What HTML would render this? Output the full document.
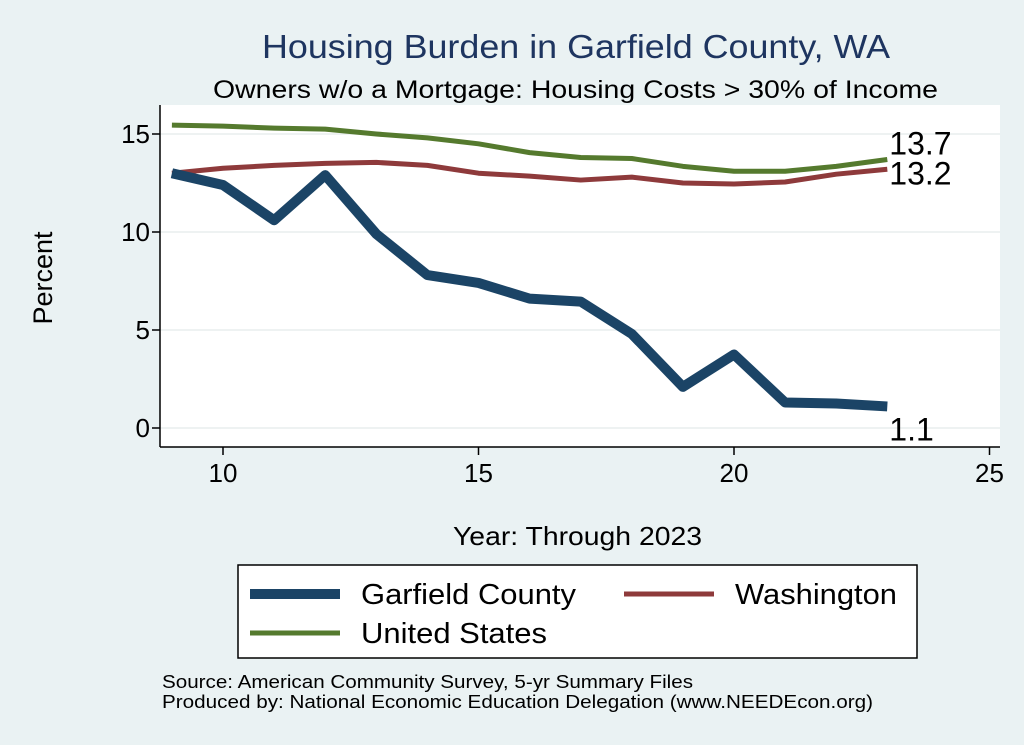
<!DOCTYPE html>
<html><head><meta charset="utf-8"><style>
body{margin:0;background:#eaf2f3;}
svg{display:block;font-family:"Liberation Sans",sans-serif;}
</style></head><body>
<svg width="1024" height="745" viewBox="0 0 1024 745">
<rect x="0" y="0" width="1024" height="745" fill="#eaf2f3"/>
<text x="262" y="58" font-size="33" fill="#1e3560" textLength="628" lengthAdjust="spacingAndGlyphs">Housing Burden in Garfield County, WA</text>
<text x="213" y="98" font-size="25" fill="#000" textLength="725" lengthAdjust="spacingAndGlyphs">Owners w/o a Mortgage: Housing Costs &gt; 30% of Income</text>
<rect x="160" y="105" width="840" height="342" fill="#fff"/>
<g id="grid"></g>
<g id="axes"></g>
<g id="series"></g>
<text x="52" y="278" font-size="27" text-anchor="middle" transform="rotate(-90 52 278)">Percent</text>
<text x="453" y="545" font-size="26" textLength="249" lengthAdjust="spacingAndGlyphs">Year: Through 2023</text>
<g>
<rect x="238" y="565" width="679" height="93" fill="#fff" stroke="#000" stroke-width="1.5"/>
<line x1="250" y1="594" x2="340" y2="594" stroke="#1b4466" stroke-width="10"/>
<text x="361" y="604" font-size="29" textLength="215" lengthAdjust="spacingAndGlyphs">Garfield County</text>
<line x1="624" y1="594" x2="714" y2="594" stroke="#8e3a3b" stroke-width="5"/>
<text x="735" y="604" font-size="29" textLength="162" lengthAdjust="spacingAndGlyphs">Washington</text>
<line x1="250" y1="633" x2="340" y2="633" stroke="#557a2e" stroke-width="5"/>
<text x="361" y="643" font-size="29" textLength="186" lengthAdjust="spacingAndGlyphs">United States</text>
</g>
<text x="162" y="688" font-size="18" textLength="531" lengthAdjust="spacingAndGlyphs">Source: American Community Survey, 5-yr Summary Files</text>
<text x="162" y="708" font-size="18" textLength="711" lengthAdjust="spacingAndGlyphs">Produced by: National Economic Education Delegation (www.NEEDEcon.org)</text>
</svg>
<script>
const years=[9,10,11,12,13,14,15,16,17,18,19,20,21,22,23];
const garfield=[13.0,12.4,10.6,12.9,9.9,7.8,7.4,6.6,6.45,4.8,2.1,3.75,1.3,1.25,1.1];
const washington=[13.0,13.25,13.4,13.5,13.55,13.4,13.0,12.85,12.65,12.8,12.5,12.45,12.55,12.95,13.2];
const us=[15.45,15.4,15.3,15.25,15.0,14.8,14.5,14.05,13.8,13.75,13.35,13.1,13.1,13.35,13.7];
const xTicks=[10,15,20,25];
const yTicks=[0,5,10,15];
const NS="http://www.w3.org/2000/svg";
function X(v){return 223+(v-10)*51.1;}
function Y(v){return 428-v*19.6;}
function mk(t,a,p){const e=document.createElementNS(NS,t);for(const k in a)e.setAttribute(k,a[k]);p.appendChild(e);return e;}
const grid=document.getElementById('grid'),axes=document.getElementById('axes'),ser=document.getElementById('series');
yTicks.forEach(v=>{
 const g=mk('line',{x1:160,x2:1000,y1:Y(v),y2:Y(v),stroke:'#e8eeee','stroke-width':1.5},grid);
 
 
 const t=mk('line',{x1:152,x2:160,y1:Y(v),y2:Y(v),stroke:'#000','stroke-width':1.5},axes);
 
 
 const l=mk('text',{x:150,y:Y(v)+9,'font-size':26,'text-anchor':'end'},axes);l.textContent=v;
 
 
});
xTicks.forEach(v=>{
 const t=mk('line',{x1:X(v),x2:X(v),y1:447,y2:455,stroke:'#000','stroke-width':1.5},axes);
 
 
 const l=mk('text',{x:X(v),y:482,'font-size':26,'text-anchor':'middle'},axes);l.textContent=v;
 
 
});
const ya=mk('line',{x1:160,x2:160,y1:105,y2:447,stroke:'#000','stroke-width':1.5},axes);


const xa=mk('line',{x1:160,x2:1000,y1:447,y2:447,stroke:'#000','stroke-width':1.5},axes);


function line(data,col,w,name){
 const p=mk('polyline',{points:years.map((y,i)=>X(y)+','+Y(data[i])).join(' '),fill:'none',stroke:col,'stroke-width':w,'stroke-linejoin':'round'},ser);
 
 
}
line(us,'#557a2e',5,'line-united-states');
line(washington,'#8e3a3b',5,'line-washington');
line(garfield,'#1b4466',10,'line-garfield');
function lab(data,dy,name){
 const last=data[data.length-1];
 const t=mk('text',{x:X(23)+2,y:Y(last)+dy,'font-size':32},ser);t.textContent=last.toFixed(1);
 
 
}
lab(us,-5,'end-label-us');
lab(washington,15,'end-label-washington');
lab(garfield,34,'end-label-garfield');
</script>
</body></html>
